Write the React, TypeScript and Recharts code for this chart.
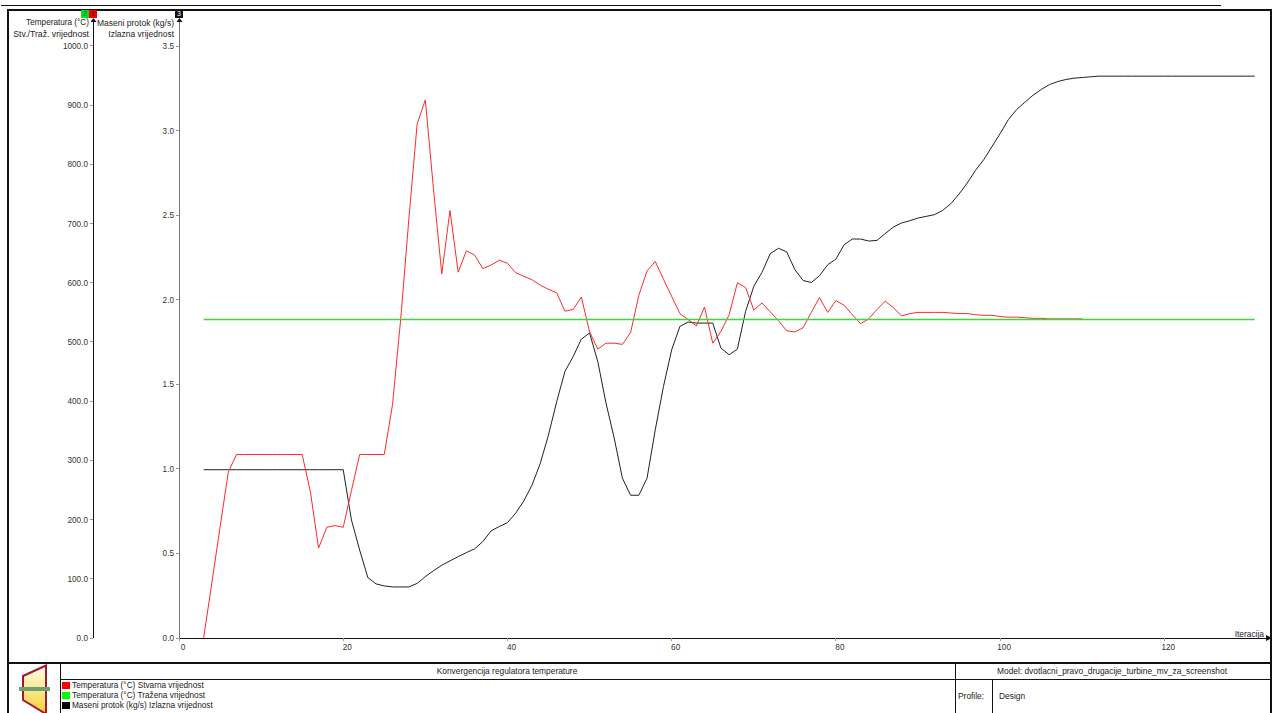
import { LineChart, Line, XAxis, YAxis } from "recharts";

const iterations = [
  3, 4, 5, 6, 7, 8, 9, 10, 11, 12, 13, 14, 15, 16, 17, 18, 19, 20, 21, 22, 23, 24, 25, 26, 27, 28, 29, 30, 31, 32,
  33, 34, 35, 36, 37, 38, 39, 40, 41, 42, 43, 44, 45, 46, 47, 48, 49, 50, 51, 52, 53, 54, 55, 56, 57, 58, 59, 60, 61, 62,
  63, 64, 65, 66, 67, 68, 69, 70, 71, 72, 73, 74, 75, 76, 77, 78, 79, 80, 81, 82, 83, 84, 85, 86, 87, 88, 89, 90, 91, 92,
  93, 94, 95, 96, 97, 98, 99, 100, 101, 102, 103, 104, 105, 106, 107, 108, 109, 110, 111, 112, 113, 114, 115, 116, 117, 118, 119, 120, 121, 122,
  123, 124, 125, 126, 127, 128, 129, 130, 131,
];

// Temperatura stvarna vrijednost, iteracije 3..110
const tempActual = [
  0, 93, 187, 280, 310, 310, 310, 310, 310, 310, 310, 310, 310, 247, 152, 187, 190, 187, 249, 310, 310, 310, 310, 394, 539, 709, 868, 909, 757, 615,
  722, 618, 654, 647, 624, 630, 638, 633, 617, 611, 605, 596, 589, 583, 552, 555, 576, 517, 488, 498, 498, 496, 516, 579, 620, 636, 606, 577, 548, 538,
  527, 559, 498, 518, 546, 600, 592, 554, 566, 551, 536, 519, 517, 524, 550, 575, 550, 570, 562, 546, 531, 539, 555, 569, 558, 544, 548, 550, 550, 550,
  550, 549, 548, 548, 546, 545, 545, 543, 542, 542, 541, 540, 540, 539, 539, 539, 539, 539,
];

const tempTarget = 538;

// Maseni protok izlazna vrijednost, iteracije 3..131
const massFlow = [
  0.995, 0.995, 0.995, 0.995, 0.995, 0.995, 0.995, 0.995, 0.995, 0.995, 0.995, 0.995, 0.995, 0.995, 0.995, 0.995, 0.995, 0.995, 0.698, 0.52,
  0.357, 0.32, 0.308, 0.302, 0.302, 0.302, 0.323, 0.363, 0.398, 0.43, 0.456, 0.481, 0.505, 0.527, 0.57, 0.633, 0.659, 0.682, 0.738, 0.811,
  0.905, 1.033, 1.201, 1.398, 1.576, 1.664, 1.767, 1.803, 1.635, 1.389, 1.182, 0.945, 0.844, 0.844, 0.945, 1.231, 1.487, 1.704, 1.842, 1.868,
  1.862, 1.862, 1.862, 1.714, 1.675, 1.708, 1.931, 2.079, 2.162, 2.272, 2.304, 2.284, 2.178, 2.114, 2.102, 2.142, 2.207, 2.24, 2.325, 2.359,
  2.359, 2.347, 2.351, 2.391, 2.43, 2.454, 2.467, 2.483, 2.493, 2.503, 2.528, 2.568, 2.625, 2.69, 2.765, 2.828, 2.905, 2.982, 3.065, 3.124,
  3.167, 3.209, 3.243, 3.272, 3.29, 3.302, 3.31, 3.314, 3.318, 3.322, 3.322, 3.322, 3.322, 3.322, 3.322, 3.322, 3.322, 3.322, 3.322, 3.322,
  3.322, 3.322, 3.322, 3.322, 3.322, 3.322, 3.322, 3.322, 3.322,
];

const tempTicks = [0, 100, 200, 300, 400, 500, 600, 700, 800, 900, 1000];
const massTicks = [0, 0.5, 1, 1.5, 2, 2.5, 3, 3.5];
const iterTicks = [0, 20, 40, 60, 80, 100, 120];

const legendItems = [
  { name: "Temperatura (°C) Stvarna vrijednost", color: "#ff0000" },
  { name: "Temperatura (°C) Tražena vrijednost", color: "#00ff00" },
  { name: "Maseni protok (kg/s) Izlazna vrijednost", color: "#000000" },
];

const rows = iterations.map((it, i) => ({
  it,
  actual: tempActual[i] ?? null,
  target: tempTarget,
  mass: massFlow[i],
}));

const font = "'Liberation Sans', Arial, sans-serif";
const tickStyle = { fill: "#333", fontSize: 8.2, fontFamily: font };

function Txt({ x, y, right, center, size = 8.4, children }: any) {
  const style: any = { position: "absolute", top: y - 6, height: 12, lineHeight: "12px", whiteSpace: "nowrap", fontSize: size, color: "#222" };
  if (right !== undefined) style.right = 1274 - right;
  else if (center !== undefined) {
    style.left = center - 300;
    style.width = 600;
    style.textAlign = "center";
  } else style.left = x;
  return <div style={style}>{children}</div>;
}

function Rule({ x, y, w, h }: any) {
  return <div style={{ position: "absolute", left: x, top: y, width: w, height: h, background: "#111" }} />;
}

function Badge({ x, color, label, text }: any) {
  return (
    <div style={{ position: "absolute", left: x, top: 10, width: 8, height: 8, background: color, color: text, fontSize: 7, lineHeight: "8px", textAlign: "center" }}>
      {label}
    </div>
  );
}

export default function App() {
  return (
    <div style={{ position: "absolute", left: 0, top: 0, width: 1274, height: 713, overflow: "hidden", background: "#fff", fontFamily: font }}>
      <div style={{ position: "absolute", left: 0, top: 0 }}>
        <LineChart width={1274} height={713} data={rows} margin={{ top: 20, right: 7, bottom: 55, left: 7 }}>
          <XAxis
            xAxisId="it"
            type="number"
            dataKey="it"
            domain={[0, 132.5]}
            ticks={iterTicks}
            height={20}
            tickSize={3}
            tick={{ ...tickStyle, dx: 4, dy: 1 }}
            tickLine={{ stroke: "#999", shapeRendering: "crispEdges" }}
            axisLine={{ stroke: "#111", shapeRendering: "crispEdges" }}
          />
          <YAxis
            yAxisId="temp"
            width={86}
            domain={[0, 1043.9]}
            ticks={tempTicks}
            tickSize={3}
            tick={tickStyle}
            tickFormatter={(v: number) => v.toFixed(1)}
            tickLine={{ stroke: "#999", shapeRendering: "crispEdges" }}
            axisLine={{ stroke: "#111", shapeRendering: "crispEdges" }}
          />
          <YAxis
            yAxisId="mass"
            width={86}
            domain={[0, 3.654]}
            ticks={massTicks}
            tickSize={3}
            tick={tickStyle}
            tickFormatter={(v: number) => v.toFixed(1)}
            tickLine={{ stroke: "#999", shapeRendering: "crispEdges" }}
            axisLine={{ stroke: "#777", shapeRendering: "crispEdges" }}
          />
          <Line xAxisId="it" yAxisId="mass" dataKey="mass" stroke="#222" strokeWidth={1} dot={false} isAnimationActive={false} />
          <Line xAxisId="it" yAxisId="temp" dataKey="actual" stroke="#ff2a2a" strokeWidth={1} dot={false} isAnimationActive={false} />
          <Line xAxisId="it" yAxisId="temp" dataKey="target" stroke="#33dd33" strokeWidth={1.4} dot={false} isAnimationActive={false} />
        </LineChart>
      </div>

      {/* okvir i tablica */}
      <Rule x={1} y={5} w={1220} h={1} />
      <Rule x={7} y={9} w={1264} h={1.5} />
      <Rule x={7} y={9} w={2} h={704} />
      <Rule x={1270} y={9} w={1.5} h={704} />
      <Rule x={7} y={662} w={1264} h={1.5} />
      <Rule x={60} y={679} w={1211} h={1} />
      <Rule x={60} y={662} w={1} h={51} />
      <Rule x={955} y={662} w={1} h={51} />
      <Rule x={992} y={679} w={1} h={34} />

      <Badge x={81} color="#00e020" label="2" text="#064" />
      <Badge x={89} color="#f00000" label="1" text="#400" />
      <Badge x={175} color="#111" label="3" text="#fff" />

      <Txt right={89} y={23} size={8.2}>Temperatura (°C)</Txt>
      <Txt right={89} y={34} size={8.7}>Stv./Traž. vrijednost</Txt>
      <Txt right={174} y={23} size={8.5}>Maseni protok (kg/s)</Txt>
      <Txt right={174} y={34} size={8.5}>Izlazna vrijednost</Txt>
      <Txt right={1264} y={634}>Iteracija</Txt>

      <Txt center={507} y={671}>Konvergencija regulatora temperature</Txt>
      <Txt x={997} y={671}>Model: dvotlacni_pravo_drugacije_turbine_mv_za_screenshot</Txt>
      <Txt x={958} y={696}>Profile:</Txt>
      <Txt x={999} y={696}>Design</Txt>

      {legendItems.map((item, i) => (
        <div key={item.name}>
          <div style={{ position: "absolute", left: 62, top: 682 + i * 10, width: 8, height: 7, background: item.color }} />
          <Txt x={72} y={686 + i * 10} size={8.25}>{item.name}</Txt>
        </div>
      ))}

      <svg width={1274} height={713} style={{ position: "absolute", left: 0, top: 0, pointerEvents: "none" }}>
        <defs>
          <linearGradient id="iconFill" x1="0" y1="0" x2="0" y2="1">
            <stop offset="0%" stopColor="#fffff0" />
            <stop offset="100%" stopColor="#f5d030" />
          </linearGradient>
        </defs>
        <polygon points="93.5,18 90.5,22 96.5,22" fill="#111" />
        <polygon points="179.5,18 176.5,22 182.5,22" fill="#111" />
        <polygon points="1272,638 1266,635 1266,641" fill="#111" />
        <polygon points="46,665.5 23,676 23,700 46,714" fill="url(#iconFill)" stroke="#a01830" strokeWidth={2} />
        <rect x={19} y={687} width={31} height={4} fill="#6f9f6f" />
      </svg>
    </div>
  );
}
